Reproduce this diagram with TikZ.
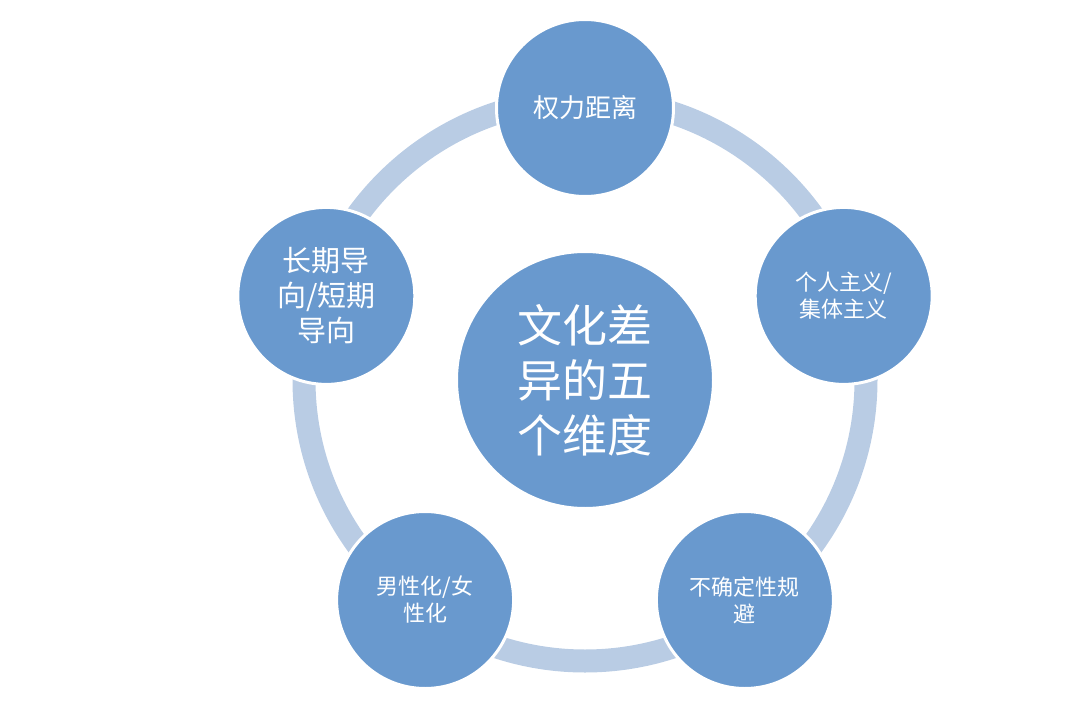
\documentclass[tikz,border=0pt]{standalone}
\usepackage{fontspec}
\newfontfamily\cjk{Noto Sans CJK SC}
\definecolor{bubble}{RGB}{105,153,206}
\definecolor{ringc}{RGB}{185,204,228}
\tikzset{
  bubble/.style={circle, fill=bubble, draw=white, line width=3pt, minimum size=177pt,
    inner sep=0pt, text=white, align=center},
  hub/.style={bubble, minimum size=257pt},
  ringline/.style={draw=ringc, line width=23pt},
  fsmall/.style={font=\cjk\fontsize{22}{27}\selectfont},
  fmid/.style={font=\cjk\fontsize{26}{31}\selectfont},
  fleft/.style={font=\cjk\fontsize{29}{35}\selectfont},
  fbig/.style={font=\cjk\fontsize{45}{55}\selectfont},
}
\begin{document}
\begin{tikzpicture}[x=1pt,y=-1pt]
\useasboundingbox (0,0) rectangle (1080,717);
\coordinate (c) at (585,380);
\draw[ringline] (c) circle[radius=281pt];
\node[bubble, fmid] (pd) at (585,108) {权力距离};
\node[bubble, fsmall] (ic) at (843.7,295.9) {个人主义/\\集体主义};
\node[bubble, fsmall] (ua) at (744.9,600) {不确定性规\\避};
\node[bubble, fsmall] (mf) at (425.1,600) {男性化/女\\性化};
\node[bubble, fleft] (lt) at (326.3,295.9) {长期导\\向/短期\\导向};
\node[hub, fbig] (hub) at (c) {文化差\\异的五\\个维度};
\end{tikzpicture}
\end{document}
